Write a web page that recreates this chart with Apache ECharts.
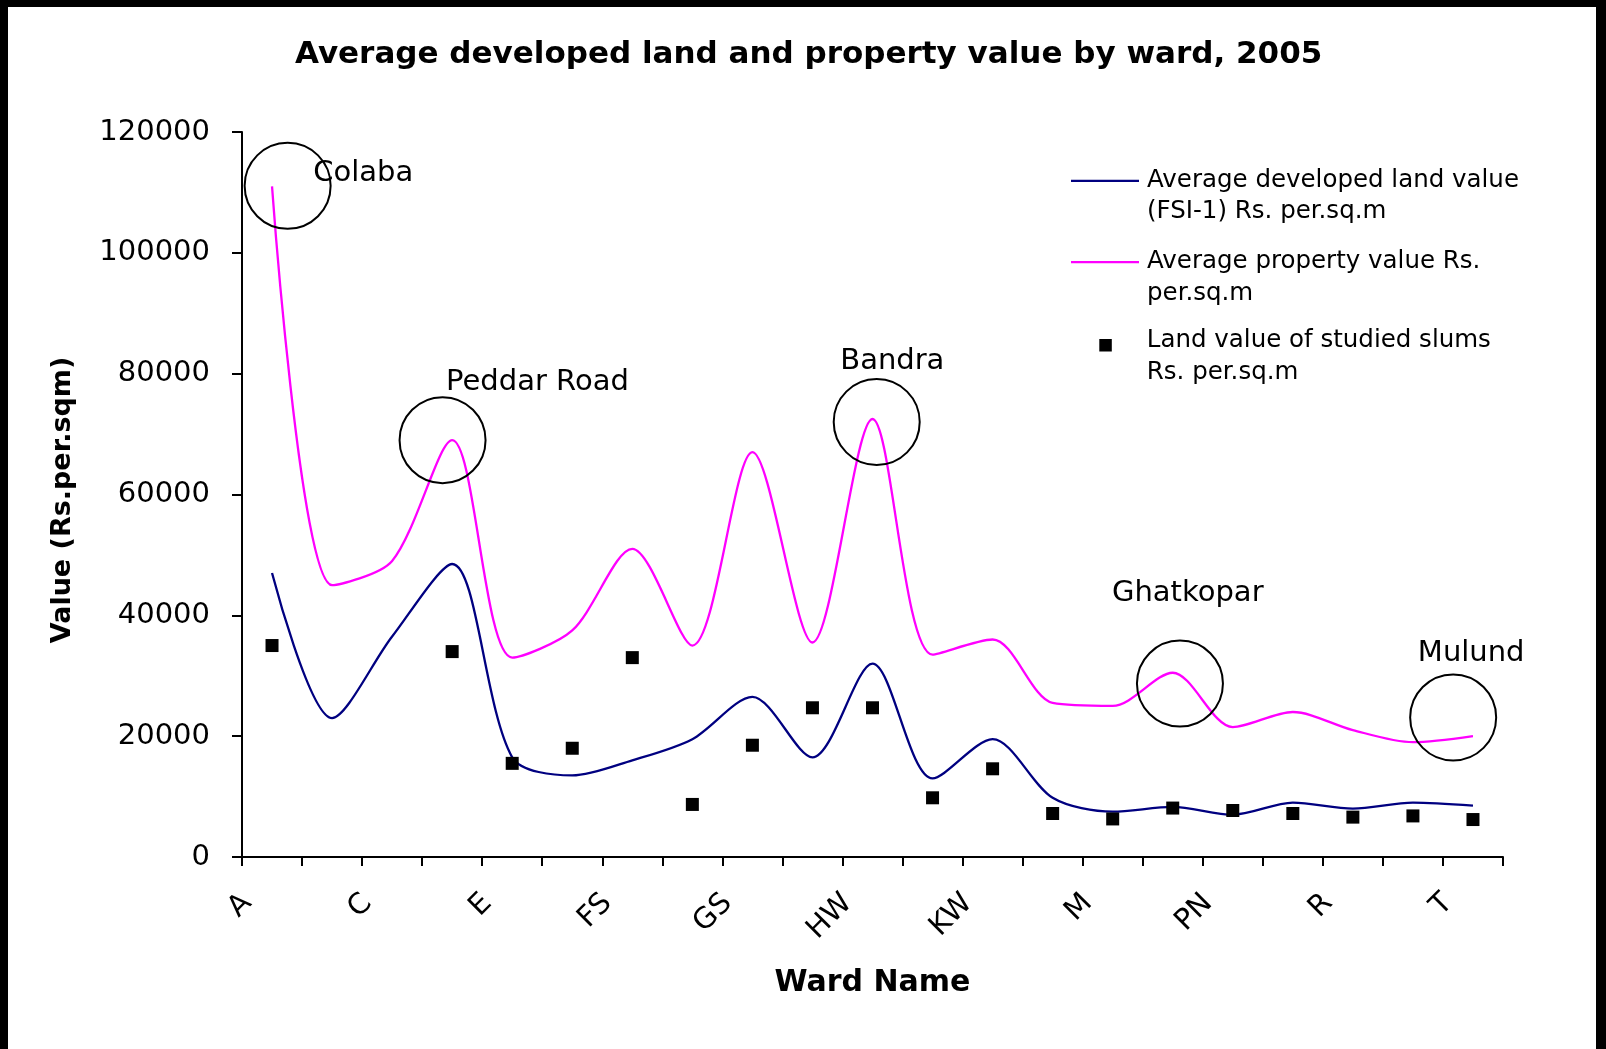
<!DOCTYPE html>
<html>
<head>
<meta charset="utf-8">
<title>Average developed land and property value by ward, 2005</title>
<script src="https://cdn.jsdelivr.net/npm/echarts@6/dist/echarts.min.js"></script>
<style>
  html, body { margin: 0; padding: 0; background: #fff; }
  #chart { width: 1606px; height: 1049px; }
</style>
</head>
<body>
<div id="chart"></div>
<script>
// ward data, Rs. per sq.m
const wards = ['A', 'B', 'C', 'D', 'E', 'FN', 'FS', 'GN', 'GS', 'HE', 'HW',
  'KE', 'KW', 'L', 'M', 'N', 'PN', 'PS', 'R', 'S', 'T'];
const devLandValue = [47000, 23000, 36500, 48500, 16500, 13500, 16000, 19500, 26500, 16500, 32000,
  13000, 19500, 9800, 7500, 8300, 7000, 9000, 8000, 9000, 8500];
const propertyValue = [111000, 45000, 49000, 69000, 33000, 37500, 51000, 35000, 67000, 35500, 72500,
  33500, 36000, 25500, 25000, 30500, 21500, 24000, 21000, 19000, 20000];
const slumLandValue = [35000, null, null, 34000, 15500, 18000, 33000, 8700, 18500, 24700, 24700,
  9800, 14600, 7200, 6300, 8100, 7700, 7200, 6600, 6800, 6200];

// circled localities, placed on a 0..21 ward scale (ward i sits at i + 0.5)
const noteNames = ['Colaba', 'Peddar Road', 'Bandra', 'Ghatkopar', 'Mulund'];
const noteCircleX = [0.76, 3.34, 10.57, 15.62, 20.17];
const noteCircleY = [111100, 69000, 72000, 28700, 23100];
const noteLabelX = [2.02, 4.92, 10.83, 15.75, 20.47];
const noteLabelY = [113200, 78500, 82100, 43700, 33700];

const FONT = 'DejaVu Sans';
const S1 = 'Average developed land value (FSI-1) Rs. per.sq.m';
const S2 = 'Average property value Rs. per.sq.m';
const S3 = 'Land value of studied slums Rs. per.sq.m';
const legendText = {};
legendText[S1] = 'Average developed land value\n(FSI-1) Rs. per.sq.m';
legendText[S2] = 'Average property value Rs.\nper.sq.m';
legendText[S3] = 'Land value of studied slums\nRs. per.sq.m';

// legend marks sit level with the first text line, so the icon box is taller
// than the mark and the mark is drawn at its top
const lineIcon = 'path://M0,0H68V2.3H0Z M0,33H0.01';
const squareIcon = 'path://M0,0H12.5V12.5H0Z M0,35.5H0.01';

const chart = echarts.init(document.getElementById('chart'));

function legendBox(name, left, top, w, h, padLeft, icon) {
  return {
    data: [{ name: name, icon: icon }],
    left: left,
    top: top,
    orient: 'vertical',
    padding: 0,
    itemWidth: w,
    itemHeight: h,
    itemStyle: { borderWidth: 0 },
    selectedMode: false,
    formatter: n => legendText[n],
    textStyle: {
      fontFamily: FONT, fontSize: 24.5, lineHeight: 31.5, color: '#000',
      padding: [0, 0, 0, padLeft]
    }
  };
}

const option = {
  animation: false,
  backgroundColor: '#fff',
  title: {
    text: 'Average developed land and property value by ward, 2005',
    left: 295,
    top: 39,
    padding: 0,
    textStyle: { fontFamily: FONT, fontWeight: 'bold', fontSize: 31, color: '#000' }
  },
  legend: [
    legendBox(S1, 1071, 164.7, 68, 33, 3, lineIcon),
    legendBox(S2, 1071, 246, 68, 33, 3, lineIcon),
    legendBox(S3, 1099.3, 325.2, 12.5, 35.5, 30, squareIcon)
  ],
  grid: { left: 242, right: 103, top: 132, bottom: 192 },
  xAxis: [
    {
      type: 'category',
      data: wards,
      boundaryGap: true,
      axisLine: { lineStyle: { color: '#000', width: 2 } },
      axisTick: { show: true, interval: 0, length: 9, lineStyle: { color: '#000', width: 2 } },
      axisLabel: {
        interval: 1, rotate: 45, margin: 17, padding: [0, 35, 0, 0],
        fontFamily: FONT, fontSize: 29, color: '#000'
      },
      splitLine: { show: false },
      name: 'Ward Name',
      nameLocation: 'middle',
      nameGap: 111,
      nameTextStyle: { fontFamily: FONT, fontWeight: 'bold', fontSize: 30, color: '#000' }
    },
    { type: 'value', min: 0, max: 21, show: false }
  ],
  yAxis: {
    type: 'value',
    min: 0,
    max: 120000,
    interval: 20000,
    axisLine: { show: true, lineStyle: { color: '#000', width: 2 } },
    axisTick: { show: true, length: 10, lineStyle: { color: '#000', width: 2 } },
    axisLabel: {
      margin: 32, fontFamily: FONT, fontSize: 29, color: '#000',
      formatter: v => String(v)
    },
    splitLine: { show: false },
    name: 'Value (Rs.per.sqm)',
    nameLocation: 'middle',
    nameGap: 166,
    nameRotate: 90,
    nameTextStyle: {
      fontFamily: FONT, fontWeight: 'bold', fontSize: 27, color: '#000',
      padding: [0, 11, 0, 0]
    }
  },
  series: [
    {
      name: S1, type: 'line', data: devLandValue, smooth: 0.3, symbol: 'none',
      lineStyle: { color: '#000080', width: 2.3 }, itemStyle: { color: '#000080' }, z: 3
    },
    {
      name: S2, type: 'line', data: propertyValue, smooth: 0.3, symbol: 'none',
      lineStyle: { color: '#ff00ff', width: 2.3 }, itemStyle: { color: '#ff00ff' }, z: 3
    },
    {
      name: S3, type: 'scatter', data: slumLandValue, symbol: 'rect', symbolSize: 13,
      itemStyle: { color: '#000', opacity: 1 }, z: 4
    },
    {
      type: 'scatter', xAxisIndex: 1, silent: true, z: 5,
      data: noteCircleX.map((x, i) => [x, noteCircleY[i]]),
      symbol: 'circle', symbolSize: 86,
      itemStyle: { color: 'rgba(0,0,0,0)', borderColor: '#000', borderWidth: 2, opacity: 1 }
    },
    {
      type: 'scatter', xAxisIndex: 1, silent: true, z: 5,
      data: noteLabelX.map((x, i) => ({ name: noteNames[i], value: [x, noteLabelY[i]] })),
      symbolSize: 1,
      itemStyle: { color: 'rgba(0,0,0,0)', opacity: 1 },
      label: {
        show: true, position: 'inside', formatter: '{b}',
        fontFamily: FONT, fontSize: 29, color: '#000'
      }
    }
  ],
  graphic: [
    { type: 'rect', shape: { x: 0, y: 0, width: 1606, height: 7 }, style: { fill: '#000' } },
    { type: 'rect', shape: { x: 0, y: 0, width: 8, height: 1049 }, style: { fill: '#000' } },
    { type: 'rect', shape: { x: 1596, y: 0, width: 10, height: 1049 }, style: { fill: '#000' } }
  ]
};

chart.setOption(option);
</script>
</body>
</html>
